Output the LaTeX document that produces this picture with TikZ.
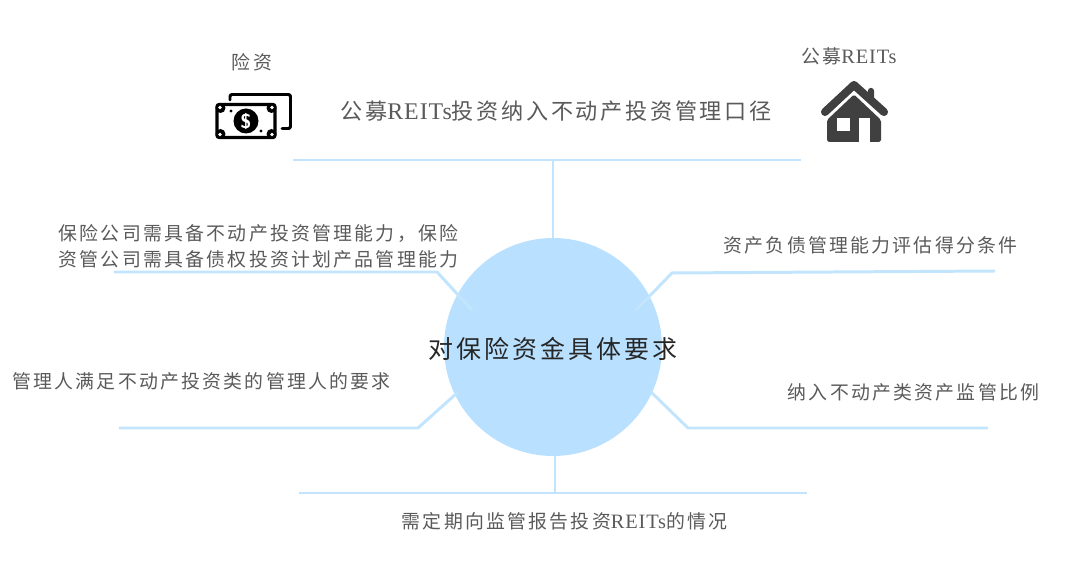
\documentclass[tikz,border=0pt]{standalone}
\usepackage{fontspec}
\setmainfont{Liberation Serif}
\newfontfamily\cjk[LetterSpace=12]{Noto Sans CJK SC}
\newfontfamily\lat[LetterSpace=4,Scale=1.08]{Liberation Serif}
\newcommand{\reits}{{\lat REITs}}
\definecolor{hubblue}{HTML}{B9E1FF}
\definecolor{spokeblue}{HTML}{C2E5FD}
\definecolor{iconblack}{HTML}{404040}
\definecolor{labelgray}{HTML}{5A5A5A}
\tikzset{
    spoke/.style={draw=spokeblue,line width=1.7pt,line join=miter},
    hubnode/.style={circle,fill=hubblue,minimum size=218*0.02cm,inner sep=0pt},
    label/.style={text=labelgray,inner sep=0pt,font=\cjk\fontsize{10.75}{14.7}\selectfont},
}
\begin{document}
\begin{tikzpicture}[x=0.02cm,y=-0.02cm]
                \useasboundingbox (0,0) rectangle (1080,564);
                \node [hubnode] (hub) at (553,347) {};

                % Bars and bends
                \coordinate (topL) at (293,160);
                \coordinate (topR) at (801,160);
                \coordinate (topM) at (553,160);
                \coordinate (botL) at (299,493);
                \coordinate (botR) at (807,493);
                \coordinate (botM) at (555,493);
                \coordinate (ulEnd) at (114,272);
                \coordinate (ulBend) at (437,272);
                \coordinate (ulIn) at (472,310);
                \coordinate (urEnd) at (995,271);
                \coordinate (urBend) at (672,273);
                \coordinate (urIn) at (636,310);
                \coordinate (llEnd) at (119,428);
                \coordinate (llBend) at (418,428);
                \coordinate (llIn) at (457,393);
                \coordinate (lrEnd) at (988,428);
                \coordinate (lrBend) at (688,428);
                \coordinate (lrIn) at (651,392);

                \draw [spoke] (topL) -- (topR);
                \draw [spoke] (topM) -- (hub.north);
                \draw [spoke] (botL) -- (botR);
                \draw [spoke] (botM) -- (botM |- hub.south);
                \draw [spoke] (ulEnd) -- (ulBend) -- (ulIn);
                \draw [spoke] (urEnd) -- (urBend) -- (urIn);
                \draw [spoke] (llEnd) -- (llBend) -- (llIn);
                \draw [spoke] (lrEnd) -- (lrBend) -- (lrIn);

                % Labels
                \node [text=black!85,inner sep=0pt,font=\cjk\fontsize{14.2}{16}\selectfont] (hubtext) at (553,349) {对保险资金具体要求};
                \node [label] (insurer) at (252,62) {险资};
                \node [label] (reit) at (849,56) {公募\reits};
                \node [label,font=\cjk\fontsize{12.6}{16}\selectfont] (title) at (556,111) {公募\reits 投资纳入不动产投资管理口径};
                \node [label,align=left] (ability) at (258.5,246) {保险公司需具备不动产投资管理能力，保险\\资管公司需具备债权投资计划产品管理能力};
                \node [label] (score) at (870.5,245) {资产负债管理能力评估得分条件};
                \node [label] (manager) at (201.5,381) {管理人满足不动产投资类的管理人的要求};
                \node [label] (ratio) at (913.5,392) {纳入不动产类资产监管比例};
                \node [label] (report) at (564.5,521) {需定期向监管报告投资\reits 的情况};

                % Money icon
                \draw [black,line width=1.7pt,line cap=round,rounded corners=1.2pt]
                    (230,100) -- (230,94.5) -- (290.5,94.5) -- (290.5,128.5) -- (282,128.5);
                \draw [black,line width=1.8pt,rounded corners=1.2pt] (217,104.5) rectangle (275,137.5);
                \foreach \cx/\cy in {220.5/108,271.5/108,220.5/134,271.5/134}
                    \fill [black] (\cx,\cy) circle (5);
                \fill [white] (220,107.5) circle (1.8) (272,107.5) circle (1.8) (220,134.5) circle (1.8) (272,134.5) circle (1.8);
                \fill [black] (231,111) circle (1.6) (261,131) circle (1.6);
                \fill [black] (246,121) circle (12.5);
                \node [text=white,inner sep=0pt,font=\sffamily\bfseries\fontsize{11.5}{11.5}\selectfont] (dollar) at (246,121) {\$};

                % House icon
                \fill [iconblack,rounded corners=1.5pt] (868,88) rectangle (874,104);
                \draw [iconblack,line width=4.6pt,line cap=round,line join=round] (825,112) -- (854,85) -- (884,112);
                \fill [white] (823,120) -- (854,91) -- (885,120) -- (885,123) -- (823,123) -- cycle;
                \fill [iconblack,rounded corners=1pt] (827,142) -- (827,120) -- (854,94.5) -- (881,120) -- (881,142) -- cycle;
                \fill [white] (837,118) rectangle (850,131);
                \fill [white] (859,118) rectangle (870,142);
            \end{tikzpicture}
\end{document}
